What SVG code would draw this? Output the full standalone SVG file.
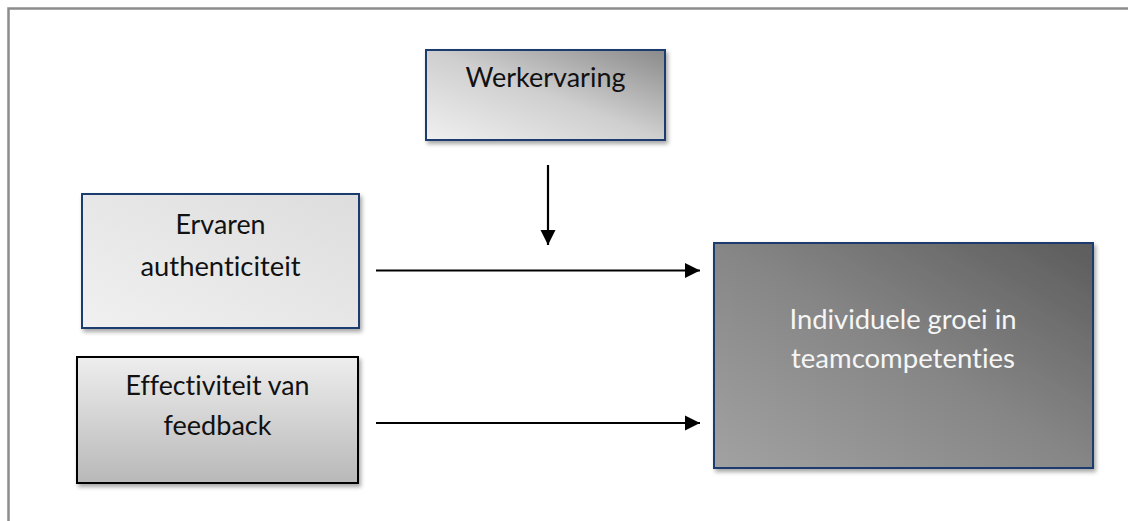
<svg xmlns="http://www.w3.org/2000/svg" width="1128" height="521" viewBox="0 0 1128 521">
  <defs>
    <linearGradient id="gWerk" x1="0" y1="1" x2="1" y2="0">
      <stop offset="0" stop-color="#f0f0f0"/>
      <stop offset="0.5" stop-color="#cfcfcf"/>
      <stop offset="1" stop-color="#8a8a8a"/>
    </linearGradient>
    <linearGradient id="gErv" x1="0" y1="1" x2="1" y2="0">
      <stop offset="0" stop-color="#f0f0f0"/>
      <stop offset="1" stop-color="#dddddd"/>
    </linearGradient>
    <linearGradient id="gEff" x1="0" y1="0" x2="0" y2="1">
      <stop offset="0" stop-color="#eeeeee"/>
      <stop offset="1" stop-color="#b8b8b8"/>
    </linearGradient>
    <linearGradient id="gInd" x1="0" y1="1" x2="1" y2="0">
      <stop offset="0" stop-color="#a2a2a2"/>
      <stop offset="0.5" stop-color="#868686"/>
      <stop offset="1" stop-color="#5c5c5c"/>
    </linearGradient>
    <filter id="shadow" x="-5%" y="-5%" width="115%" height="120%">
      <feDropShadow dx="2" dy="3" stdDeviation="2" flood-color="#000" flood-opacity="0.35"/>
    </filter>
    <marker id="arrow" viewBox="0 0 10 10" refX="10" refY="5" markerWidth="7" markerHeight="7" orient="auto" markerUnits="strokeWidth">
      <path d="M0,0 L10,5 L0,10 Z" fill="#000"/>
    </marker>
    <style>
      .navy { stroke: #1f3a6e; stroke-width: 2; }
      .blk { stroke: #000; stroke-width: 2; }
      .lbl { font-family: Lato, "Open Sans", "Liberation Sans", sans-serif; font-size: 26px; text-anchor: middle; fill: #111; font-variant-ligatures: none; }
      .lblw { fill: #f6f6f6; }
      .conn { stroke: #000; stroke-width: 2.2; fill: none; marker-end: url(#arrow); }
    </style>
  </defs>

  <rect width="1128" height="521" fill="#fff"/>
  <path d="M8.5,521 V8.5 H1128" fill="none" stroke="#8c8c8c" stroke-width="2.5"/>

  <g id="node-werkervaring">
    <rect x="426" y="50" width="239" height="90" fill="url(#gWerk)" class="navy" filter="url(#shadow)"/>
    <text class="lbl" x="545.5" y="87" textLength="160" lengthAdjust="spacingAndGlyphs">Werkervaring</text>
  </g>

  <g id="node-ervaren">
    <rect x="82" y="194" width="277" height="134" fill="url(#gErv)" class="navy" filter="url(#shadow)"/>
    <text class="lbl" x="220.5" y="234" textLength="90" lengthAdjust="spacingAndGlyphs">Ervaren</text>
    <text class="lbl" x="220.5" y="276" textLength="160" lengthAdjust="spacingAndGlyphs">authenticiteit</text>
  </g>

  <g id="node-effectiviteit">
    <rect x="77" y="357" width="281" height="126" fill="url(#gEff)" class="blk" filter="url(#shadow)"/>
    <text class="lbl" x="217.5" y="395" textLength="184" lengthAdjust="spacingAndGlyphs">Effectiviteit van</text>
    <text class="lbl" x="217.5" y="435" textLength="108" lengthAdjust="spacingAndGlyphs">feedback</text>
  </g>

  <g id="node-individuele">
    <rect x="714" y="243" width="379" height="225" fill="url(#gInd)" class="navy" filter="url(#shadow)"/>
    <text class="lbl lblw" x="903" y="329" textLength="227" lengthAdjust="spacingAndGlyphs">Individuele groei in</text>
    <text class="lbl lblw" x="903" y="368" textLength="224" lengthAdjust="spacingAndGlyphs">teamcompetenties</text>
  </g>

  <g id="connectors">
    <line class="conn" x1="548" y1="165" x2="548" y2="245"/>
    <line class="conn" x1="376" y1="270.5" x2="700" y2="270.5"/>
    <line class="conn" x1="376" y1="423" x2="700" y2="423"/>
  </g>
</svg>
